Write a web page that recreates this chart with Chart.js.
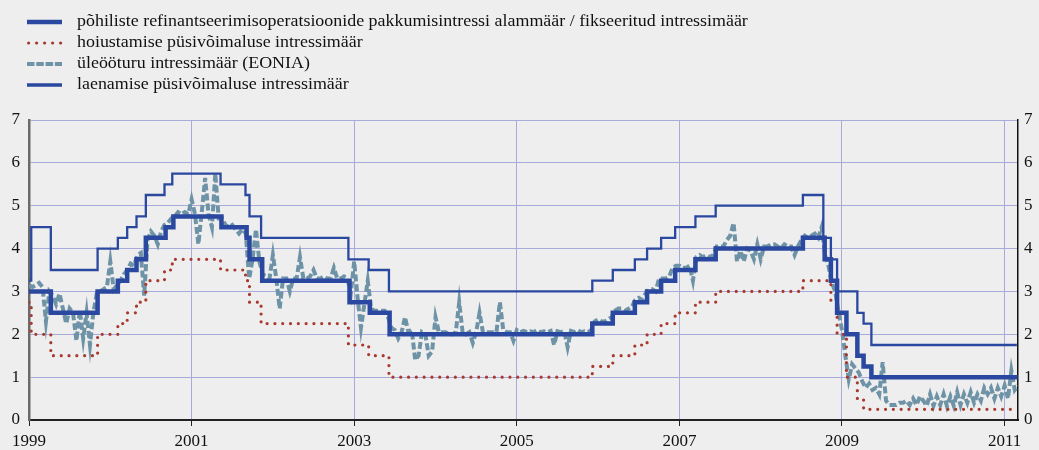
<!DOCTYPE html>
<html>
<head>
<meta charset="utf-8">
<script src="https://cdn.jsdelivr.net/npm/chart.js@4.4.1/dist/chart.umd.min.js"></script>
<style>
html, body { margin: 0; padding: 0; background: #eeeeee; }
#wrap { position: relative; width: 1039px; height: 450px; background: #eeeeee; }
#chart { position: absolute; left: 0; top: 0; }
#legend { position: absolute; left: 0; top: 0; width: 1039px; height: 100px;
  font-family: 'Liberation Serif', 'Times New Roman', serif; font-size: 16px; color: #111; }
.row { position: absolute; left: 0; height: 21px; line-height: 21px; white-space: nowrap; }
.row svg { position: absolute; left: 27px; top: 0; }
.row span { position: absolute; left: 77px; top: 0; transform: scaleX(1.12); transform-origin: left center; }
</style>
</head>
<body>
<div id="wrap">
  <canvas id="chart" width="1039" height="450"></canvas>
  <div id="legend"></div>
</div>
<script>
// ---------- labels ----------
const seriesNames = [
  'põhiliste refinantseerimisoperatsioonide pakkumisintressi alammäär / fikseeritud intressimäär',
  'hoiustamise püsivõimaluse intressimäär',
  'üleööturu intressimäär (EONIA)',
  'laenamise püsivõimaluse intressimäär'
];
const yearTicks = [1999, 2001, 2003, 2005, 2007, 2009, 2011];
const xMin = 1999, xMax = 2011.165;

// ---------- main refinancing operations rate (steps) ----------
const mroDates = ['1999-01-01','1999-04-09','1999-11-05','2000-02-04','2000-03-17','2000-04-28','2000-06-09',
  '2000-09-06','2000-10-11','2001-05-15','2001-09-05','2001-09-18','2001-11-14','2002-12-11','2003-03-12',
  '2003-06-09','2005-12-06','2006-03-08','2006-06-15','2006-08-09','2006-10-11','2006-12-13','2007-03-14',
  '2007-06-13','2008-07-09','2008-10-15','2008-11-12','2008-12-10','2009-01-21','2009-03-11','2009-04-08',
  '2009-05-13','2011-03-01'];
const mroValues = [3.0,2.5,3.0,3.25,3.5,3.75,4.25,4.5,4.75,4.5,4.25,3.75,3.25,2.75,2.5,2.0,2.25,2.5,2.75,3.0,
  3.25,3.5,3.75,4.0,4.25,3.75,3.25,2.5,2.0,1.5,1.25,1.0,1.0];

// ---------- deposit facility rate (steps) ----------
const depDates = ['1999-01-01','1999-01-11','1999-04-09','1999-11-05','2000-02-04','2000-03-17','2000-04-28',
  '2000-06-09','2000-09-01','2000-10-06','2001-05-11','2001-08-31','2001-09-18','2001-11-09','2002-12-06',
  '2003-03-07','2003-06-06','2005-12-06','2006-03-08','2006-06-15','2006-08-09','2006-10-11','2006-12-13',
  '2007-03-14','2007-06-13','2008-07-09','2008-11-12','2008-12-10','2009-01-21','2009-03-11','2009-04-08',
  '2011-02-20'];
const depValues = [2.75,2.0,1.5,2.0,2.25,2.5,2.75,3.25,3.5,3.75,3.5,3.25,2.75,2.25,1.75,1.5,1.0,1.25,1.5,1.75,
  2.0,2.25,2.5,2.75,3.0,3.25,2.75,2.0,1.0,0.5,0.25,0.25];

// ---------- marginal lending facility rate (steps) ----------
const mlDates = ['1999-01-01','1999-01-11','1999-04-09','1999-11-05','2000-02-04','2000-03-17','2000-04-28',
  '2000-06-09','2000-09-01','2000-10-06','2001-05-11','2001-08-31','2001-09-18','2001-11-09','2002-12-06',
  '2003-03-07','2003-06-06','2005-12-06','2006-03-08','2006-06-15','2006-08-09','2006-10-11','2006-12-13',
  '2007-03-14','2007-06-13','2008-07-09','2008-10-09','2008-11-12','2008-12-10','2009-03-11','2009-04-08',
  '2009-05-13','2011-02-25'];
const mlValues = [3.25,4.5,3.5,4.0,4.25,4.5,4.75,5.25,5.5,5.75,5.5,5.25,4.75,4.25,3.75,3.5,3.0,3.25,3.5,3.75,
  4.0,4.25,4.5,4.75,5.0,5.25,4.25,3.75,3.0,2.5,2.25,1.75,1.75];

// ---------- EONIA, half-monthly readings (1st and 16th of each month) ----------
const eoniaStart = 1999;
const eoniaPerYear = 24;
const eonia1999 = [3.15,3.1,3.15,3.2,3.1,2.3,3.0,2.9,2.7,2.95,2.6,2.25,2.6,2.5,1.85,2.55,1.9,2.5,1.75,2.5,2.95,3.0,3.05,3.1];
const eonia2000 = [3.7,3.05,3.15,3.25,3.4,3.5,3.65,3.6,3.85,3.9,2.9,4.2,4.4,4.3,4.1,4.4,4.55,4.6,4.7,4.75,4.85,4.8,4.85,4.8];
const eonia2001 = [5.15,4.8,4.1,4.85,5.65,4.8,4.5,5.75,4.7,4.7,4.55,4.5,4.55,4.45,4.35,4.45,4.35,3.3,3.75,4.45,3.7,3.4,3.35,3.3];
const eonia2002 = [3.85,3.3,2.6,3.3,3.3,3.0,3.3,3.3,3.8,3.3,3.3,3.35,3.5,3.3,3.3,3.35,3.3,3.3,3.55,3.3,3.3,3.35,3.3,2.95];
const eonia2003 = [3.7,2.85,2.15,2.7,3.25,2.6,2.55,2.55,2.55,2.55,2.4,2.15,2.1,1.9,2.05,2.4,2.05,2.1,1.4,1.5,2.05,2.0,1.5,1.6];
const eonia2004 = [2.4,2.05,2.05,2.05,2.0,2.0,2.05,2.75,2.05,2.0,2.05,1.8,2.05,2.5,2.05,2.05,2.05,2.05,2.05,2.75,2.1,2.05,2.05,1.85];
const eonia2005 = [2.1,2.05,2.08,2.05,2.07,2.05,2.1,2.05,2.07,2.05,2.08,1.75,2.07,2.05,2.08,1.7,2.08,2.05,2.1,2.05,2.07,2.05,2.1,2.3];
const eonia2006 = [2.35,2.3,2.3,2.35,2.4,2.55,2.6,2.6,2.55,2.6,2.65,2.8,2.85,2.8,2.95,3.05,3.05,3.0,3.3,3.3,3.3,3.35,3.55,3.6];
const eonia2007 = [3.6,3.55,3.55,3.6,3.25,3.8,3.85,3.8,3.85,3.8,3.85,4.05,4.05,4.05,4.2,4.3,4.6,3.7,3.95,3.7,4.0,3.95,3.75,4.1];
const eonia2008 = [3.75,4.05,4.05,4.1,4.1,4.05,4.0,4.1,4.05,4.05,3.85,4.05,4.2,4.3,4.25,4.3,4.35,4.25,4.5,3.85,3.6,3.2,3.0,2.5];
const eonia2009 = [2.1,1.5,0.95,1.3,1.2,1.1,0.9,0.75,0.85,0.7,0.75,0.6,1.35,0.45,0.35,0.35,0.35,0.4,0.4,0.45,0.35,0.5,0.35,0.55];
const eonia2010 = [0.45,0.33,0.6,0.33,0.55,0.35,0.6,0.32,0.55,0.33,0.65,0.35,0.6,0.4,0.65,0.4,0.6,0.45,0.75,0.6,0.75,0.5,0.75,0.55];
const eonia2011 = [0.8,0.5,1.15,0.7,0.8];

// ---------- colours ----------
const blue = '#2a489f';
const red = '#a8392e';
const grey = '#6f93a6';
const gridCol = '#a6abdc';
const fontFamily = "'Liberation Serif', 'Times New Roman', serif";

// ---------- helpers ----------
function decYear(s) {
  const [y, m, d] = s.split('-').map(Number);
  const a = Date.UTC(y, 0, 1), b = Date.UTC(y + 1, 0, 1);
  return y + (Date.UTC(y, m - 1, d) - a) / (b - a);
}
function pairs(dates, values) { return dates.map((d, i) => ({x: decYear(d), y: values[i]})); }
const eoniaAll = [].concat(eonia1999, eonia2000, eonia2001, eonia2002, eonia2003, eonia2004, eonia2005,
  eonia2006, eonia2007, eonia2008, eonia2009, eonia2010, eonia2011);
const eoniaPoints = eoniaAll.map((v, i) => ({x: eoniaStart + i / eoniaPerYear, y: v}));

// ---------- legend (HTML) ----------
const legendSamples = [
  '<line x1="0" y1="12" x2="35" y2="12" stroke="' + blue + '" stroke-width="4.5"/>',
  '<line x1="1.6" y1="12" x2="35" y2="12" stroke="' + red + '" stroke-width="3.2" stroke-linecap="round" stroke-dasharray="0 8"/>',
  '<line x1="0" y1="12" x2="35" y2="12" stroke="' + grey + '" stroke-width="4" stroke-dasharray="7.5 1.8"/>',
  '<line x1="0" y1="12" x2="35" y2="12" stroke="' + blue + '" stroke-width="3.5"/>'
];
const legendTops = [10, 31, 52, 73];
const legendEl = document.getElementById('legend');
seriesNames.forEach((name, i) => {
  const row = document.createElement('div');
  row.className = 'row';
  row.style.top = legendTops[i] + 'px';
  row.innerHTML = '<svg width="36" height="21">' + legendSamples[i] + '</svg><span></span>';
  row.querySelector('span').textContent = name;
  legendEl.appendChild(row);
});

// ---------- chart ----------
const tickFont = {family: fontFamily, size: 17};
new Chart(document.getElementById('chart'), {
  type: 'line',
  data: {
    datasets: [
      {label: seriesNames[0], data: pairs(mroDates, mroValues), borderColor: blue, borderWidth: 4.5,
       stepped: true, borderJoinStyle: 'miter', borderCapStyle: 'butt'},
      {label: seriesNames[1], data: pairs(depDates, depValues), borderColor: red, borderWidth: 3.2,
       stepped: true, borderDash: [0, 7.8], borderCapStyle: 'round'},
      {label: seriesNames[3], data: pairs(mlDates, mlValues), borderColor: blue, borderWidth: 2.3,
       stepped: true, borderJoinStyle: 'miter'},
      {label: seriesNames[2], data: eoniaPoints, borderColor: grey, borderWidth: 4,
       borderDash: [7, 3], borderCapStyle: 'butt'}
    ]
  },
  options: {
    responsive: false,
    animation: false,
    events: [],
    layout: {padding: {top: 120, left: 0, right: 0, bottom: 0}},
    elements: {point: {radius: 0}, line: {tension: 0, fill: false}},
    plugins: {legend: {display: false}, tooltip: {enabled: false}},
    scales: {
      x: {
        type: 'linear', min: xMin, max: xMax,
        afterBuildTicks: s => { s.ticks = yearTicks.map(v => ({value: v})); },
        afterFit: s => { s.height = 30; },
        grid: {color: gridCol, lineWidth: 1, drawTicks: true, tickLength: 6, tickColor: '#222'},
        border: {color: '#222', width: 2},
        ticks: {font: tickFont, color: '#111', padding: 5, maxRotation: 0, autoSkip: false,
                callback: v => String(v)}
      },
      y: {
        position: 'left', min: 0, max: 7,
        afterFit: s => { s.width = 29; },
        grid: {color: gridCol, lineWidth: 1, drawTicks: false},
        border: {color: '#6a6a6a', width: 2.5},
        ticks: {stepSize: 1, font: tickFont, color: '#111', padding: 9}
      },
      y2: {
        position: 'right', min: 0, max: 7,
        afterFit: s => { s.width = 21; },
        grid: {display: false, drawTicks: false},
        border: {color: '#111', width: 1.5},
        ticks: {stepSize: 1, font: tickFont, color: '#111', padding: 6}
      }
    }
  }
});
</script>
</body>
</html>
